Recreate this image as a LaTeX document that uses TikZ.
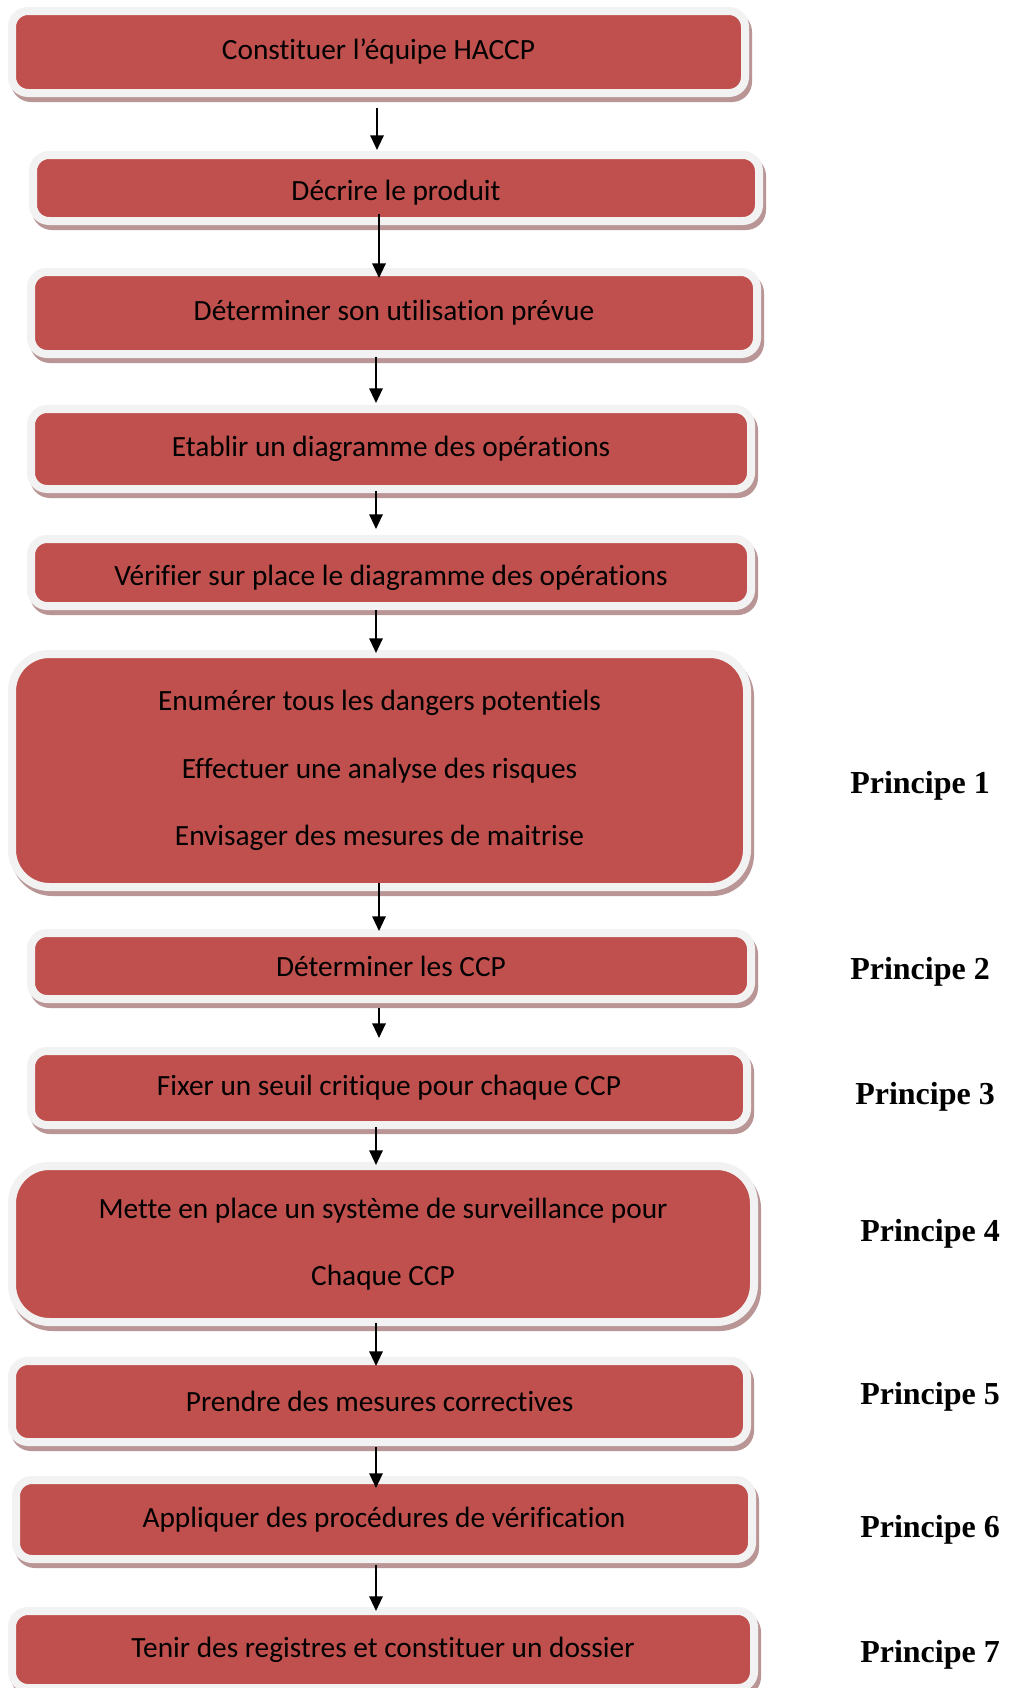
\documentclass[tikz,border=0pt]{standalone}
\usepackage{fontspec}
\setmainfont{Carlito}[Ligatures=NoCommon]
\newfontfamily\labelfont{Liberation Serif}
\usetikzlibrary{calc,arrows.meta}
\definecolor{boxred}{HTML}{C0504D}
\definecolor{boxrim}{HTML}{F2F2F2}
\definecolor{boxshade}{HTML}{B99595}

\begin{document}
\begin{tikzpicture}[x=0.75pt,y=-0.75pt,
  stepbox/.style 2 args={draw=boxrim, fill=boxred, line width=6pt,
    rounded corners=12pt, minimum width=#1*0.75pt, minimum height=#2*0.75pt,
    inner sep=0pt, align=center, font=\fontsize{22}{26}\selectfont,
    preaction={draw=boxshade, fill=boxshade, line width=6pt,
      transform canvas={shift={(2.25pt,-3.75pt)}}}},
  bigbox/.style={rounded corners=28pt, font=\fontsize{22}{50.6}\selectfont},
  arr/.style={line width=1.5pt, -{Triangle[width=10pt,length=11pt]}},
  prin/.style={font=\labelfont\bfseries\fontsize{24}{28}\selectfont,
    anchor=west, inner sep=0pt}]

\fill[white] (0,0) rectangle (1009,1688);
\useasboundingbox (0,0) rectangle (1009,1688);

% steps of the HACCP procedure
\node[stepbox={733}{82}] (b1) at (378.5,52) {Constituer l’équipe HACCP};
\node[stepbox={726}{66}, text height=22pt] (b2) at (396,188) {Décrire le produit};
\node[stepbox={726}{82}] (b3) at (394,313) {Déterminer son utilisation prévue};
\node[stepbox={720}{80}] (b4) at (391,449) {Etablir un diagramme des opérations};
\node[stepbox={720}{67}, text height=23.5pt] (b5) at (391,572.5) {Vérifier sur place le diagramme des opérations};
\node[stepbox={735}{233}, bigbox] (b6) at (379.5,770.5)
  {Enumérer tous les dangers potentiels\\Effectuer une analyse des risques\\Envisager des mesures de maitrise};
\node[stepbox={720}{66}] (b7) at (391,966) {Déterminer les CCP};
\node[stepbox={716}{74}] (b8) at (389,1088) {Fixer un seuil critique pour chaque CCP};
\node[stepbox={742}{156}, bigbox] (b9) at (383,1244)
  {Mette en place un système de surveillance pour\\Chaque CCP};
\node[stepbox={735}{81}] (b10) at (379.5,1401.5) {Prendre des mesures correctives};
\node[stepbox={736}{79}] (b11) at (384,1519.5) {Appliquer des procédures de vérification};
\node[stepbox={742}{77}] (b12) at (383,1649.5) {Tenir des registres et constituer un dossier};

% principle labels
\node[prin] (p1) at (850,786) {Principe 1};
\node[prin] (p2) at (850,972) {Principe 2};
\node[prin] (p3) at (855,1097) {Principe 3};
\node[prin] (p4) at (860,1234) {Principe 4};
\node[prin] (p5) at (860,1397) {Principe 5};
\node[prin] (p6) at (860,1530) {Principe 6};
\node[prin] (p7) at (860,1655) {Principe 7};

% connectors
\draw[arr] ($(b1.south)+(-1.5,11)$) -- ($(b2.north)+(-19,-1)$);
\draw[arr] ($(b2.south)+(-17,-11)$) -- ($(b3.north)+(-15,10)$);
\draw[arr] ($(b3.south)+(-18,-1)$) -- ($(b4.north)+(-15,-2)$);
\draw[arr] ($(b4.south)+(-15,-2)$) -- ($(b5.north)+(-15,-6)$);
\draw[arr] ($(b5.south)+(-15,0)$) -- ($(b6.north)+(-3.5,3)$);
\draw[arr] ($(b6.south)+(-0.5,-8)$) -- ($(b7.north)+(-12,2)$);
\draw[arr] ($(b7.south)+(-12,5)$) -- ($(b8.north)+(-10,-9)$);
\draw[arr] ($(b8.south)+(-13,-2)$) -- ($(b9.north)+(-7,3)$);
\draw[arr] ($(b9.south)+(-7,-3)$) -- ($(b10.north)+(-3.5,9)$);
\draw[arr] ($(b10.south)+(-3.5,1)$) -- ($(b11.north)+(-8,12)$);
\draw[arr] ($(b11.south)+(-8,2)$) -- ($(b12.north)+(-7,4)$);
\end{tikzpicture}
\end{document}
